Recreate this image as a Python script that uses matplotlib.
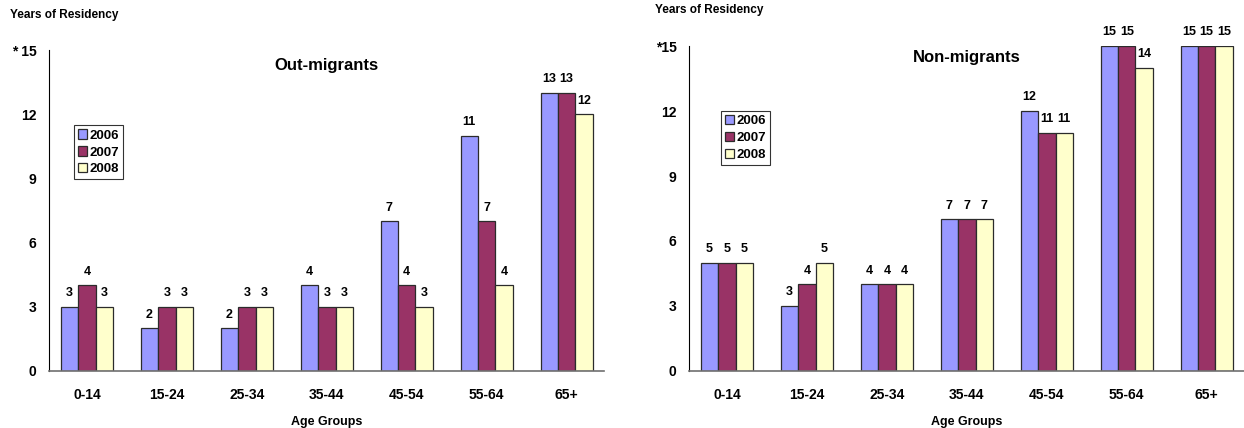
import matplotlib.pyplot as plt
import numpy as np

plt.rcParams['font.family'] = ['Liberation Sans', 'DejaVu Sans']
plt.rcParams['font.weight'] = 'bold'

age_groups = ["0-14", "15-24", "25-34", "35-44", "45-54", "55-64", "65+"]
years = ["2006", "2007", "2008"]

out_2006 = [3, 2, 2, 4, 7, 11, 13]
out_2007 = [4, 3, 3, 3, 4, 7, 13]
out_2008 = [3, 3, 3, 3, 3, 4, 12]

non_2006 = [5, 3, 4, 7, 12, 15, 15]
non_2007 = [5, 4, 4, 7, 11, 15, 15]
non_2008 = [5, 5, 4, 7, 11, 14, 15]

colori = ["#9999FF", "#993366", "#FFFFCC"]
yticks = [0, 3, 6, 9, 12, 15]


def grafico(ax, serie, titolo, top_label, leg_pos, title_y):
    x = np.arange(len(age_groups))
    w = 0.218
    for i, vals in enumerate(serie):
        pos = x + (i - 1) * w
        ax.bar(pos, vals, w, color=colori[i], edgecolor="#2b2b2b",
               linewidth=0.9, label=years[i], zorder=2)
        for px, v in zip(pos, vals):
            ax.text(px, v + 0.35, str(v), ha="center", va="bottom",
                    fontsize=9, fontweight="bold")
    ax.set_xlim(-0.475, 6.465)
    ax.set_ylim(0, 15)
    ax.set_yticks(yticks)
    ax.set_yticklabels([str(t) for t in yticks[:-1]] + [top_label])
    ax.set_xticks(x)
    ax.set_xticklabels(age_groups)
    ax.tick_params(length=0, labelsize=10, pad=12)
    ax.tick_params(axis="y", pad=9)
    for lab in ax.get_xticklabels() + ax.get_yticklabels():
        lab.set_fontweight("bold")
    ax.spines["top"].set_visible(False)
    ax.spines["right"].set_visible(False)
    ax.spines["left"].set_color("black")
    ax.spines["bottom"].set_color("#707070")
    ax.spines["bottom"].set_linewidth(1.2)
    ax.set_xlabel("Age Groups", fontsize=9, fontweight="bold", labelpad=10)
    ax.text(0.5, title_y, titolo, transform=ax.transAxes, ha="center",
            va="center", fontsize=12, fontweight="bold")
    leg = ax.legend(loc="upper left", bbox_to_anchor=leg_pos, fontsize=9.5,
                    frameon=True, fancybox=False, handlelength=0.7,
                    handleheight=0.7, handletextpad=0.2, borderpad=0.3,
                    labelspacing=0.35, borderaxespad=0)
    leg.get_frame().set_edgecolor("black")
    leg.get_frame().set_linewidth(0.8)
    for t in leg.get_texts():
        t.set_fontweight("bold")


fig = plt.figure(figsize=(12.44, 4.28), dpi=100)
ax1 = fig.add_axes([0.0394, 0.1332, 0.446, 0.7498])
ax2 = fig.add_axes([0.5539, 0.1332, 0.446, 0.7593])

grafico(ax1, [out_2006, out_2007, out_2008], "Out-migrants", "* 15",
        (0.045, 0.765), 0.953)
grafico(ax2, [non_2006, non_2007, non_2008], "Non-migrants", "*15",
        (0.057, 0.80), 0.966)

fig.text(10 / 1244, 1 - 15 / 428, "Years of Residency", fontsize=8.5,
         fontweight="bold", va="center", ha="left")
fig.text(655 / 1244, 1 - 10 / 428, "Years of Residency", fontsize=8.5,
         fontweight="bold", va="center", ha="left")

fig.savefig("out.png", dpi=100)
